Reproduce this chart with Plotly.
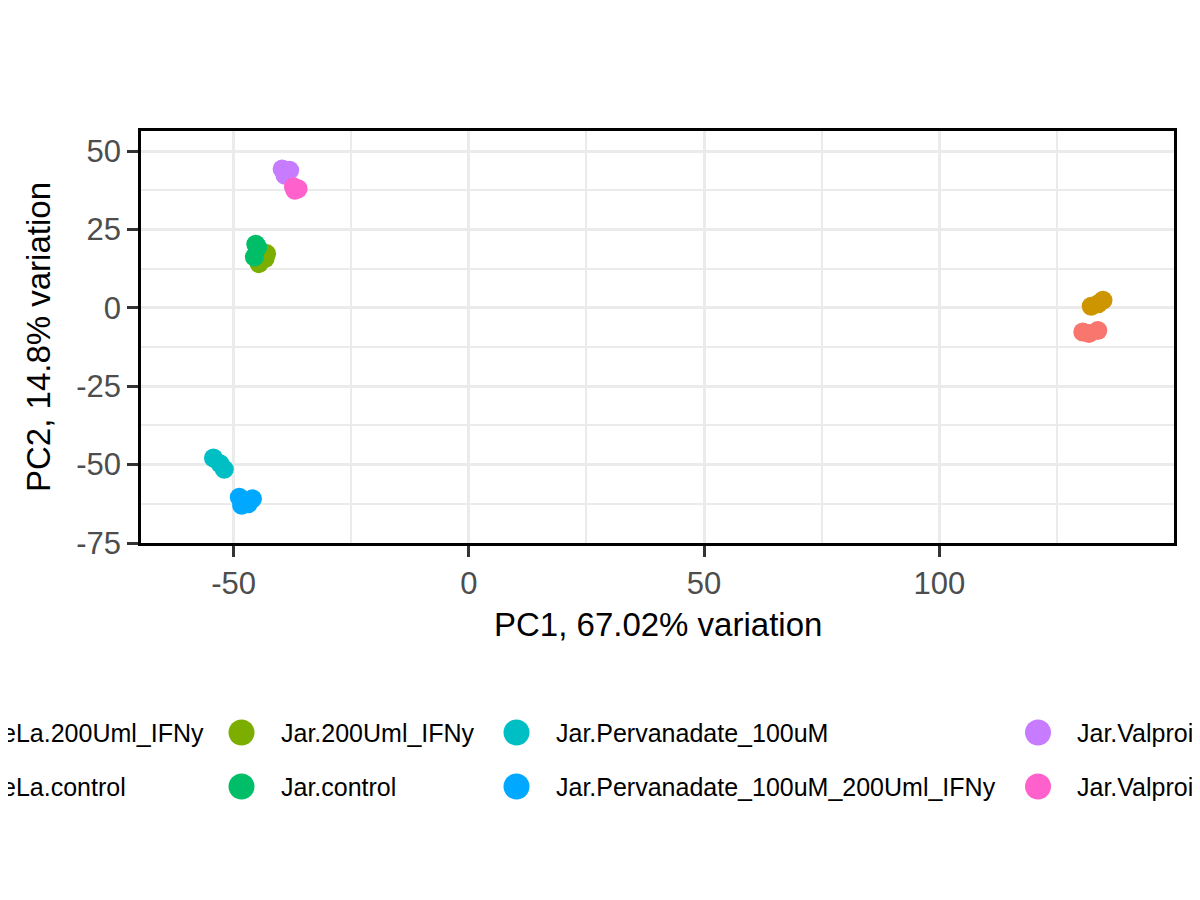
import plotly.graph_objects as go

# PCA scores per group (PC1, PC2)
groups = [
    "HeLa.200Uml_IFNy", "HeLa.control", "Jar.200Uml_IFNy", "Jar.control",
    "Jar.Pervanadate_100uM", "Jar.Pervanadate_100uM_200Uml_IFNy",
    "Jar.Valproic_acid", "Jar.Valproic_acid_200Uml_IFNy",
]
colors = ["#F8766D", "#CD9600", "#7CAE00", "#00BE67",
          "#00BFC4", "#00A9FF", "#C77CFF", "#FF61CC"]

pc1 = [
    [130.5, 133.7, 131.8],
    [132.3, 134.8, 133.8],
    [-43.0, -44.6, -43.3],
    [-45.3, -44.9, -45.6],
    [-54.3, -52.0, -52.9],
    [-48.8, -46.0, -48.3, -46.9],
    [-39.7, -38.1, -39.1],
    [-37.3, -36.3, -37.0],
]
pc2 = [
    [-7.7, -7.2, -8.2],
    [0.5, 2.4, 1.3],
    [17.3, 14.1, 15.7],
    [20.3, 19.3, 16.2],
    [-47.9, -51.5, -49.7],
    [-60.4, -60.9, -63.0, -62.5],
    [44.3, 43.9, 42.3],
    [38.6, 38.0, 37.5],
]

x_ticks = [-50, 0, 50, 100]
y_ticks = [50, 25, 0, -25, -50, -75]

# page body has an 8px margin, so the figure sits 8px in from the corner
OFF = 8
W, H = 1200, 900
L, R, T, B = 133, 34, 123, 365
PW, PH = W - L - R, H - T - B


def px(x):
    return (x - OFF - L) / PW


def py(y):
    return (H - B - (y - OFF)) / PH


fig = go.Figure()
for g, c, xs, ys in zip(groups, colors, pc1, pc2):
    fig.add_trace(go.Scatter(
        x=xs, y=ys, mode="markers", name=g, showlegend=False,
        marker=dict(color=c, size=19, line=dict(width=0)),
    ))

axis_common = dict(
    showline=True, mirror=True, linecolor="black", linewidth=2.7,
    showgrid=True, gridcolor="#EBEBEB", gridwidth=3,
    zeroline=False, ticks="outside", ticklen=11, tickwidth=2.5,
    tickcolor="#333333",
    tickfont=dict(family="Liberation Sans", size=31, color="#4D4D4D"),
)

fig.update_xaxes(
    range=[-69.7, 149.9], tickvals=x_ticks,
    ticktext=[str(v) for v in x_ticks],
    minor=dict(dtick=25, tick0=0, showgrid=True, gridcolor="#EBEBEB",
               gridwidth=1.6, ticks=""),
    **axis_common,
)
fig.update_yaxes(
    range=[-75, 56.4], tickvals=y_ticks,
    ticktext=[str(v) for v in y_ticks],
    minor=dict(dtick=12.5, tick0=0, showgrid=True, gridcolor="#EBEBEB",
               gridwidth=1.6, ticks=""),
    **axis_common,
)

annotations = [
    dict(text="PC1, 67.02% variation", x=0.5, y=py(624), xref="paper",
         yref="paper", xanchor="center", yanchor="middle", showarrow=False,
         font=dict(family="Liberation Sans", size=33, color="black")),
    dict(text="PC2, 14.8% variation", x=px(38), y=0.5, xref="paper",
         yref="paper", xanchor="center", yanchor="middle", showarrow=False,
         textangle=-90,
         font=dict(family="Liberation Sans", size=33, color="black")),
]

# manual legend, 4 columns x 2 rows, clipped by the page edges like the reference
col_x = [-55, 241.5, 516.5, 1038]
row_y = [732.5, 786.5]
shapes = []
for i, (g, c) in enumerate(zip(groups, colors)):
    cx = col_x[i // 2]
    cy = row_y[i % 2]
    r = 13
    shapes.append(dict(
        type="circle", xref="paper", yref="paper",
        x0=px(cx - r), x1=px(cx + r), y0=py(cy + r), y1=py(cy - r),
        fillcolor=c, line=dict(width=0),
    ))
    annotations.append(dict(
        text=g, x=px(cx + 37), y=py(cy), xref="paper", yref="paper",
        xanchor="left", yanchor="middle", showarrow=False,
        font=dict(family="Liberation Sans", size=25, color="black"),
    ))

fig.update_layout(
    width=W, height=H,
    margin=dict(l=L, r=R, t=T, b=B),
    paper_bgcolor="white", plot_bgcolor="white",
    showlegend=False,
    annotations=annotations, shapes=shapes,
)

fig.write_html("out.html")
